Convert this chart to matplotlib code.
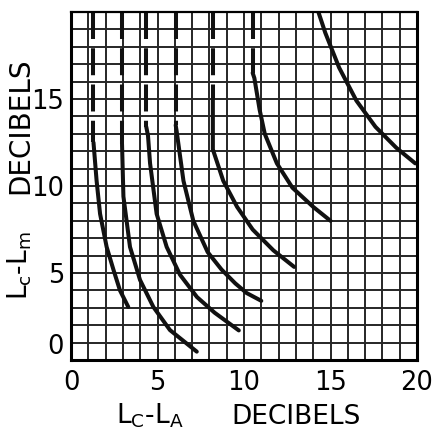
import matplotlib
matplotlib.use("Agg")
import matplotlib.pyplot as plt

plt.rcParams['font.family'] = ['DejaVu Sans']

# Tick values on both axes (decibels)
x_ticks = [0, 5, 10, 15, 20]
y_ticks = [0, 5, 10, 15]

# Each curve: x position of the dashed vertical lead-in, the level where
# the dashed part stops, and the solid curve that follows.
dash_x = [1.3, 2.95, 4.35, 6.05, 8.2, 10.5]
dash_stop = [12.5, 12.4, 13.4, 13.5, 15.0, 16.5]

curve_a_x = [1.3, 1.48, 1.68, 2.06, 2.45, 2.83, 3.31]
curve_a_y = [12.5, 10.3, 8.4, 6.5, 5.2, 4.0, 3.05]

curve_b_x = [2.95, 3.03, 3.41, 3.99, 4.76, 5.72, 7.27]
curve_b_y = [12.4, 9.4, 6.5, 4.6, 3.05, 1.72, 0.48]

curve_c_x = [4.35, 4.45, 4.57, 4.95, 5.53, 6.3, 7.28, 8.3, 9.7]
curve_c_y = [13.4, 12.9, 11.3, 8.4, 6.5, 4.9, 3.62, 2.72, 1.7]

curve_d_x = [6.05, 6.1, 6.5, 7.07, 7.9, 8.7, 9.5, 10.15, 11.0]
curve_d_y = [13.5, 13.2, 10.3, 8.0, 6.2, 5.2, 4.4, 3.85, 3.4]

curve_e_x = [8.2, 8.2, 8.8, 9.6, 10.5, 11.7, 12.9]
curve_e_y = [15.0, 12.1, 10.3, 8.8, 7.5, 6.3, 5.35]

curve_f_x = [10.5, 10.6, 10.9, 11.2, 11.9, 12.8, 14.0, 15.0]
curve_f_y = [16.5, 16.2, 14.4, 13.0, 11.3, 9.9, 8.8, 8.0]

curve_g_x = [14.3, 14.7, 15.5, 16.5, 17.6, 18.8, 19.9]
curve_g_y = [20.0, 18.8, 16.8, 14.9, 13.4, 12.2, 11.3]

solid_curves = [
    (curve_a_x, curve_a_y), (curve_b_x, curve_b_y), (curve_c_x, curve_c_y),
    (curve_d_x, curve_d_y), (curve_e_x, curve_e_y), (curve_f_x, curve_f_y),
    (curve_g_x, curve_g_y),
]

fig = plt.figure(figsize=(4.36, 4.34), dpi=100)
ax = fig.add_axes([71 / 436, 1 - 360 / 434, 346 / 436, 348 / 434])

ax.set_xlim(0, 20)
ax.set_ylim(0, 20)

# one-decibel grid
ax.set_xticks(range(21), minor=True)
ax.set_yticks(range(21), minor=True)
ax.set_xticks(x_ticks)
ax.set_yticks(y_ticks)
ax.grid(which='both', color='#262626', linewidth=1.4)
ax.set_axisbelow(True)
ax.tick_params(which='both', length=0)
ax.tick_params(axis='x', pad=7, labelsize=18.5)
ax.tick_params(axis='y', pad=5, labelsize=18.5)
ax.set_yticklabels([str(v) for v in y_ticks])
ax.get_yticklabels()[0].set_va('bottom')

for side in ['left', 'bottom', 'right']:
    ax.spines[side].set_linewidth(2.2)
ax.spines['top'].set_linewidth(1.6)

lw = 2.9
for x0, y0 in zip(dash_x, dash_stop):
    ax.plot([x0, x0], [20, y0], color='#111111', lw=lw,
            linestyle=(0, (6.7, 2.3)), solid_capstyle='butt', clip_on=True)

for xs, ys in solid_curves:
    ax.plot(xs, ys, color='#111111', lw=lw, solid_capstyle='round',
            solid_joinstyle='round')

# axis titles
fig.text(150 / 436, 1 - 424 / 434, r'L$\mathregular{_C}$-L$\mathregular{_A}$',
         ha='center', va='baseline', fontsize=19)
fig.text(296 / 436, 1 - 424 / 434, 'DECIBELS', ha='center', va='baseline',
         fontsize=19)
fig.text(20 / 436, 1 - 266 / 434, r'L$\mathregular{_c}$-L$\mathregular{_m}$',
         ha='center', va='center', rotation=90, fontsize=19)
fig.text(20 / 436, 1 - 126 / 434, 'DECIBELS', ha='center', va='center',
         rotation=90, fontsize=20)

fig.savefig('out.png', dpi=100)
